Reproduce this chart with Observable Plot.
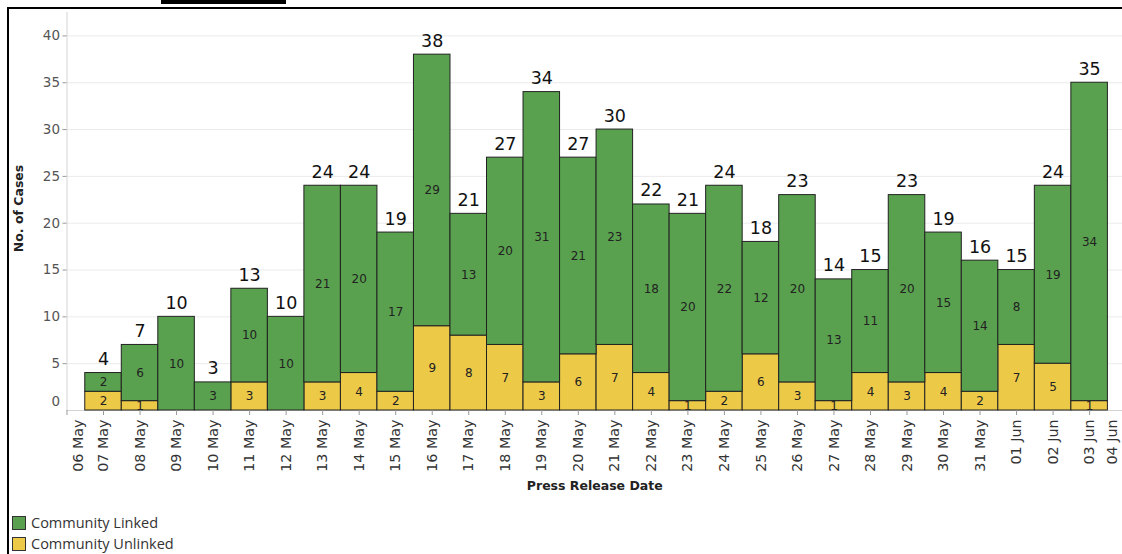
<!DOCTYPE html>
<html>
<head>
<meta charset="utf-8">
<script src="https://cdn.jsdelivr.net/npm/d3@7"></script>
<script src="https://cdn.jsdelivr.net/npm/@observablehq/plot@0.6"></script>
<style>
  html, body { margin: 0; padding: 0; background: #fff; }
  #wrap { position: relative; width: 1122px; height: 554px; overflow: hidden; background: #fff; }
  #chart { position: absolute; left: 0; top: 0; }
  #frame { position: absolute; left: 7px; top: 7px; width: 1200px; height: 600px;
           border-left: 2px solid #000; border-top: 2px solid #000; pointer-events: none; }
  #titlebar { position: absolute; left: 161px; top: 0; width: 125px; height: 4px; background: #000; }
  #legend { position: absolute; left: 12px; top: 512px; font-family: "Open Sans", sans-serif;
            font-size: 14.5px; color: #333; }
  .item { display: flex; align-items: center; height: 21px; }
  .sw { width: 12px; height: 12px; border: 1px solid #333; margin-right: 5px; }
</style>
</head>
<body>
<div id="wrap">
  <div id="chart"></div>
  <div id="titlebar"></div>
  <div id="frame"></div>
  <div id="legend"></div>
</div>
<script>
// ---- data ----
const dates = ["07 May","08 May","09 May","10 May","11 May","12 May","13 May","14 May","15 May","16 May",
  "17 May","18 May","19 May","20 May","21 May","22 May","23 May","24 May","25 May","26 May",
  "27 May","28 May","29 May","30 May","31 May","01 Jun","02 Jun","03 Jun"];
const linked   = [2,6,10,3,10,10,21,20,17,29,13,20,31,21,23,18,20,22,12,20,13,11,20,15,14,8,19,34];
const unlinked = [2,1,0,0,3,0,3,4,2,9,8,7,3,6,7,4,1,2,6,3,1,4,3,4,2,7,5,1];
const axisLabels = ["06 May", ...dates, "04 Jun"];
const yTicks = [5,10,15,20,25,30,35,40];
const seriesNames = ["Community Linked","Community Unlinked"];
const seriesColors = ["#59a14f","#edc948"];

// ---- table for Plot ----
const rows = [];
dates.forEach((d, i) => rows.push({day: i + 1, series: "Community Unlinked", value: unlinked[i]}));
dates.forEach((d, i) => rows.push({day: i + 1, series: "Community Linked", value: linked[i]}));
const totals = dates.map((d, i) => ({day: i + 1, total: linked[i] + unlinked[i]}));

const FONT = "DejaVu Sans, sans-serif";
const chart = Plot.plot({
  width: 1122, height: 500,
  marginLeft: 66.5, marginRight: 0, marginTop: 12, marginBottom: 90,
  style: {fontFamily: FONT, background: "transparent", overflow: "visible"},
  x: {type: "linear", domain: [0, 28.9], axis: null, label: null},
  y: {domain: [0, 42.5], axis: null, label: null},
  color: {domain: seriesNames, range: seriesColors},
  marks: [
    Plot.gridY(yTicks, {stroke: "#ebebeb", strokeOpacity: 1}),
    Plot.ruleX([0], {y1: 0, y2: 42.5, stroke: "#d4d4d4"}),
    Plot.ruleY([0], {stroke: "#d4d4d4"}),
    Plot.rectY(rows, {x1: d => d.day - 0.5, x2: d => d.day + 0.5, y: "value", fill: "series",
      stroke: "#222", strokeWidth: 1}),
    Plot.text(rows.filter(d => d.value > 0), Plot.stackY({x: "day", y: "value", z: "series",
      text: "value", fontSize: 12, fill: "#222"})),
    Plot.text(totals, {x: "day", y: "total", text: "total", lineAnchor: "bottom", dy: -8,
      fontSize: 17.5, fill: "#111"}),
    // y axis
    Plot.axisY(yTicks, {tickSize: 4, tickPadding: 3, fontSize: 13.5, fill: "#555", stroke: "#999", label: null}),
    Plot.axisY([0], {tickSize: 0, tickPadding: 7, dy: -9, fontSize: 13.5, fill: "#555", label: null}),
    // x axis
    Plot.axisX(d3.range(1, 29), {tickSize: 5, tickPadding: 4, tickRotate: -90, fontSize: 14.3,
      fill: "#333", stroke: "#999", tickFormat: d => axisLabels[d], label: null}),
    Plot.axisX([0], {tickSize: 5, stroke: "#999", tickFormat: () => "", label: null}),
    Plot.axisX([0], {tickSize: 0, tickPadding: 9, tickRotate: -90, dx: 11.5, fontSize: 14.3,
      fill: "#333", tickFormat: d => axisLabels[d], label: null}),
    Plot.axisX([29], {tickSize: 0, tickPadding: 9, tickRotate: -90, dx: -13.5, fontSize: 14.3,
      fill: "#333", tickFormat: d => axisLabels[d], label: null}),
    // axis titles
    Plot.text(["Press Release Date"], {frameAnchor: "bottom", dy: 79, fontSize: 12.5,
      fontWeight: "bold", fill: "#222"}),
    Plot.text(["No. of Cases"], {frameAnchor: "left", textAnchor: "middle", dx: -48, dy: -3, rotate: -90,
      fontSize: 12.5, fontWeight: "bold", fill: "#222"})
  ]
});
document.getElementById("chart").appendChild(chart);

// ---- legend ----
const lg = document.getElementById("legend");
seriesNames.forEach((name, i) => {
  const it = document.createElement("div");
  it.className = "item";
  const sw = document.createElement("span");
  sw.className = "sw";
  sw.style.background = seriesColors[i];
  const t = document.createElement("span");
  t.textContent = name;
  it.appendChild(sw); it.appendChild(t);
  lg.appendChild(it);
});
</script>
</body>
</html>
